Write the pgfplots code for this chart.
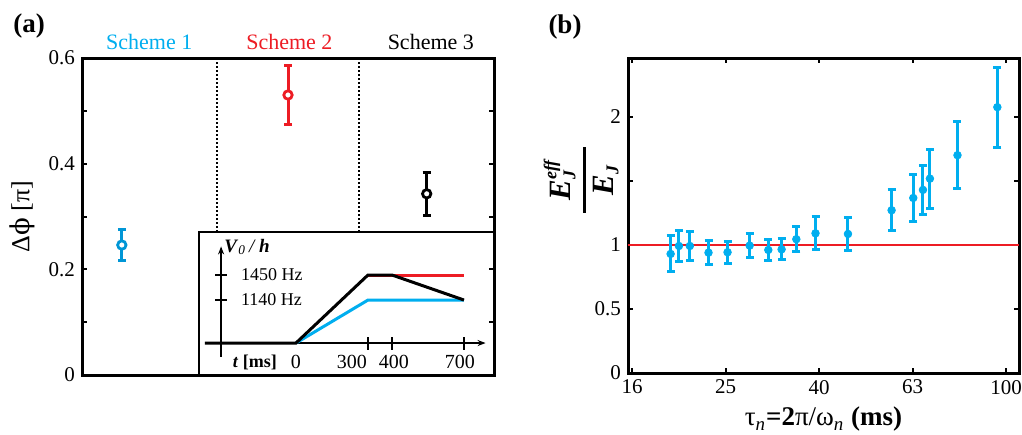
\documentclass[border=0pt]{standalone}
\usepackage{pgfplots}
\pgfplotsset{compat=1.18}
\usepackage{fontspec}
\setmainfont{Liberation Serif}
\newfontfamily\dvs{DejaVu Serif}
\usetikzlibrary{arrows.meta}
\definecolor{cblue}{RGB}{0,174,239}
\definecolor{cblue2}{RGB}{0,150,214}
\definecolor{cred}{RGB}{237,28,36}
\newcommand{\fs}[1]{\fontsize{#1}{#1}\selectfont}
\begin{document}
\begin{tikzpicture}
\path[use as bounding box] (0,0) rectangle (511pt,-217pt);
% ---------- inset ----------
\begin{axis}[at={(99.5pt,-187.5pt)}, anchor=south west, width=147.5pt, height=71.5pt,
  scale only axis, xmin=-404, xmax=825, ymin=-0.47, ymax=1.632,
  xtick=\empty, ytick=\empty, axis line style={line width=0.6pt}, clip=false,
  axis background/.style={fill=white}]
\draw[-{Stealth[length=4pt,width=3pt]}, line width=0.9pt] (axis cs:-380,0) -- (axis cs:790,0);
\draw[-{Stealth[length=4pt,width=3pt]}, line width=0.9pt] (axis cs:-312,-0.2) -- (axis cs:-312,1.42);
\draw[line width=0.9pt] (axis cs:-337,1) -- (axis cs:-287,1);
\draw[line width=0.9pt] (axis cs:-337,0.632) -- (axis cs:-287,0.632);
\draw[line width=0.9pt] (axis cs:300,0.088) -- (axis cs:300,-0.103);
\draw[line width=0.9pt] (axis cs:400,0.088) -- (axis cs:400,-0.103);
\draw[line width=0.9pt] (axis cs:700,0.088) -- (axis cs:700,-0.103);
\addplot[cred, line width=1.5pt] coordinates {(300,1)(700,1)};
\addplot[cblue, line width=1.5pt] coordinates {(0,0)(300,0.632)(700,0.632)};
\addplot[black, line width=1.5pt] coordinates {(-380,0)(0,0)(300,1)(400,1)(700,0.632)};
\node[anchor=west, font=\fs{9}] at (axis cs:-258,1) {1450 Hz};
\node[anchor=west, font=\fs{9}] at (axis cs:-258,0.632) {1140 Hz};
\node[font=\fs{10}] at (axis cs:0,-0.28) {0};
\node[font=\fs{10}] at (axis cs:233,-0.28) {300};
\node[font=\fs{10}] at (axis cs:408,-0.28) {400};
\node[font=\fs{10}] at (axis cs:683,-0.28) {700};
\node[font=\fs{9}] at (axis cs:-171,-0.28) {\textbf{\textit{t} [ms]}};
\node[font=\fs{9.5}] at (axis cs:-204,1.41) {\textbf{\textit{V}}\textsubscript{\textit{0}}\,\textit{/}\,\textbf{\textit{h}}};
\end{axis}
% ---------- panel (a) ----------
\begin{axis}[at={(41pt,-187.5pt)}, anchor=south west, width=206pt, height=158.5pt,
  scale only axis, xmin=0, xmax=3, ymin=0, ymax=0.6,
  xtick=\empty, ytick={0,0.2,0.4,0.6}, minor ytick={0.1,0.3,0.5},
  tick align=inside, major tick length=2.5pt, minor tick length=2.5pt,
  every tick/.style={black, line width=1pt},
  axis line style={line width=1.5pt},
  yticklabel style={font=\fs{10.5}},
  /pgf/number format/assume math mode=true, /pgf/number format/fixed,
  ylabel={Δ{\dvs ϕ} [π]}, ylabel style={font=\fs{13}, at={(axis description cs:-0.145,0.5)}, anchor=center},
  clip=false]
\addplot[black, line width=1pt, dash pattern=on 1pt off 1pt] coordinates {(0.985,0.271)(0.985,0.6)};
\addplot[black, line width=1pt, dash pattern=on 1pt off 1pt] coordinates {(2.015,0.271)(2.015,0.6)};
\addplot[cblue2, only marks, mark=*, mark size=2.1pt, mark options={fill=white, draw=cblue2, line width=1.4pt},
  error bars/.cd, y dir=both, y explicit, error bar style={line width=1.5pt, cblue2},
  error mark options={rotate=90, line width=1.5pt, mark size=2pt, cblue2}]
  coordinates {(0.29,0.246) +- (0,0.030)};
\addplot[cred, only marks, mark=*, mark size=2.1pt, mark options={fill=white, draw=cred, line width=1.4pt},
  error bars/.cd, y dir=both, y explicit, error bar style={line width=1.5pt, cred},
  error mark options={rotate=90, line width=1.5pt, mark size=2pt, cred}]
  coordinates {(1.50,0.530) +- (0,0.056)};
\addplot[black, only marks, mark=*, mark size=2.1pt, mark options={fill=white, draw=black, line width=1.4pt},
  error bars/.cd, y dir=both, y explicit, error bar style={line width=1.5pt, black},
  error mark options={rotate=90, line width=1.5pt, mark size=2pt, black}]
  coordinates {(2.51,0.343) +- (0,0.041)};
\node[font=\fs{11}, text=cblue] at (axis cs:0.49,0.6) [yshift=8pt] {Scheme 1};
\node[font=\fs{11}, text=cred] at (axis cs:1.51,0.6) [yshift=8pt] {Scheme 2};
\node[font=\fs{11}, text=black] at (axis cs:2.54,0.6) [yshift=8pt] {Scheme 3};
\end{axis}
\node[font=\fs{13.5}\bfseries] at (14.5pt,-13pt) {(a)};
\node[font=\fs{13.5}\bfseries] at (282.5pt,-13.5pt) {(b)};
% ---------- panel (b) ----------
\begin{axis}[at={(314pt,-186.5pt)}, anchor=south west, width=195.5pt, height=157.5pt,
  scale only axis, xmode=log, xmin=15.54, xmax=106.6, ymin=0, ymax=2.46,
  xtick={15.85,25.12,39.81,63.10,100}, xticklabels={16,25,40,63,100},
  ytick={0,0.5,1,1.5,2}, yticklabels={0,0.5,1,,2},
  tick align=inside, major tick length=2.5pt,
  every tick/.style={black, line width=1pt},
  axis line style={line width=1.5pt},
  ticklabel style={font=\fs{10.5}},
  xlabel={τ\textsubscript{\textit{n}}\textbf{=2}π/ω\textsubscript{\textit{n}} \textbf{(ms)}},
  xlabel style={font=\fs{13.5}, at={(axis description cs:0.5,-0.147)}, anchor=center},
  ylabel={\bfseries\itshape $\displaystyle{\hbox to 33pt{\hfil E$^{\hbox{\fs{9}eff}}_{\hbox{\fs{9}J}}$\hfil}\above 1.3pt \hbox to 33pt{\hfil E$_{\hbox{\fs{9}J}}$\hfil}}$},
  ylabel style={font=\fs{15.5}, at={(axis description cs:-0.12,0.613)}, anchor=center},
  clip=false]
\addplot[cred, line width=1.3pt] coordinates {(15.54,1)(106.6,1)};
\addplot[cblue, only marks, mark=*, mark size=1.9pt, mark options={fill=cblue, draw=cblue},
  error bars/.cd, y dir=both, y explicit, error bar style={line width=1.5pt, cblue},
  error mark options={rotate=90, line width=1.5pt, mark size=2pt, cblue}]
  coordinates {
  (19.17,0.930) +- (0,0.141)
  (19.97,0.992) +- (0,0.122)
  (21.07,0.992) +- (0,0.113)
  (23.10,0.940) +- (0,0.095)
  (25.37,0.943) +- (0,0.086)
  (28.29,0.995) +- (0,0.091)
  (31.01,0.961) +- (0,0.085)
  (33.11,0.966) +- (0,0.083)
  (35.60,1.045) +- (0,0.098)
  (39.13,1.091) +- (0,0.128)
  (45.91,1.086) +- (0,0.130)
  (56.92,1.271) +- (0,0.159)
  (63.33,1.367) +- (0,0.180)
  (66.43,1.430) +- (0,0.192)
  (68.74,1.518) +- (0,0.230)
  (78.74,1.701) +- (0,0.262)
  (95.81,2.076) +- (0,0.312)
  };
\end{axis}
\end{tikzpicture}
\end{document}
